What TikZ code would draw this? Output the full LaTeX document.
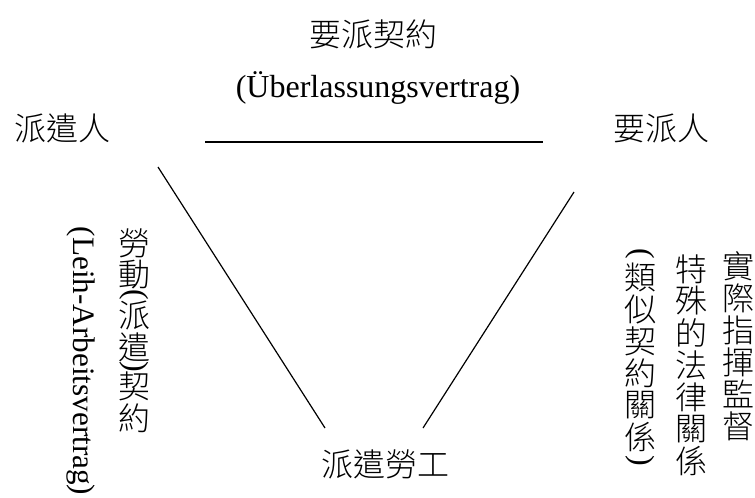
\documentclass[tikz,border=0pt]{standalone}
\usepackage{fontspec}
\setmainfont{Liberation Serif}
\newfontfamily\cjk{Noto Sans CJK TC Light}
\begin{document}
\begin{tikzpicture}[x=0.75pt,y=-0.75pt,
  every node/.style={inner sep=0pt,outer sep=0pt},
  cj/.style={font=\cjk\fontsize{24}{24}\selectfont},
  lat/.style={font=\fontsize{24}{24}\selectfont},
  vpar/.style={lat,rotate=-90},
  rel/.style={line width=0.9pt},
  base/.style={line width=1.5pt}]
\useasboundingbox (0,0) rectangle (755,497);
% horizontal labels
\node[cj]  (topcjk) at (373,34) {要派契約};
\node[lat] (toplat) at (378,88) {(Überlassungsvertrag)};
\node[cj]  (dispatcher) at (62,128) {派遣人};
\node[cj]  (user) at (661,128) {要派人};
\node[cj]  (worker) at (385,464) {派遣勞工};
% left vertical labels
\foreach \c/\y [count=\i] in {勞/243,動/275,派/315,遣/347,契/386,約/418}
  \node[cj] (lc\i) at (134,\y) {\c};
\node[vpar] (lp1) at (134,295) {(};
\node[vpar] (lp2) at (134,366.5) {)};
\node[lat,rotate=-90,font=\fontsize{23.4}{24}\selectfont] (leih) at (81,361) {(Leih-Arbeitsvertrag)};
% right vertical labels
\foreach \c [count=\i from 0] in {實,際,指,揮,監,督}
  \node[cj] (ra\i) at (738,{266+32*\i}) {\c};
\foreach \c [count=\i from 0] in {特,殊,的,法,律,關,係}
  \node[cj] (rb\i) at (691,{269+32*\i}) {\c};
\node[vpar] (rp1) at (640,254) {(};
\foreach \c [count=\i from 0] in {類,似,契,約,關,係}
  \node[cj] (rc\i) at (640,{277+32*\i}) {\c};
\node[vpar] (rp2) at (640,461) {)};
% connectors
\coordinate (h1) at (205,142);
\coordinate (h2) at (543,142);
\coordinate (l1) at (158,167);
\coordinate (l2) at (325,428);
\coordinate (r1) at (574,192);
\coordinate (r2) at (423,428);
\draw[base] (h1) -- (h2);
\draw[rel] (l1) -- (l2);
\draw[rel] (r1) -- (r2);
\end{tikzpicture}
\end{document}
